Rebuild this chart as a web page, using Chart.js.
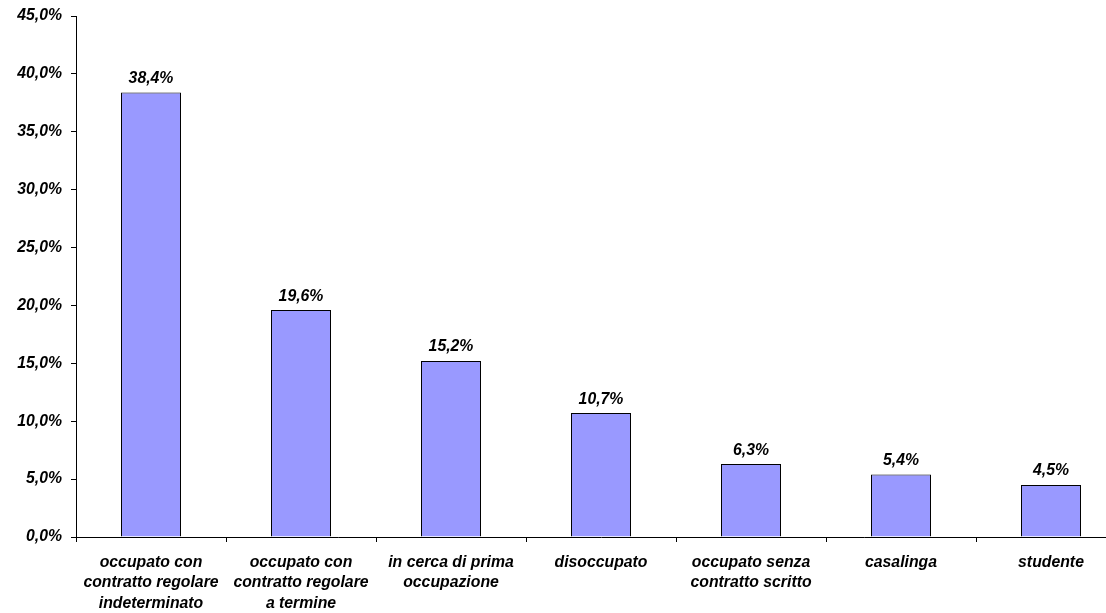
<!DOCTYPE html>
<html>
<head>
<meta charset="utf-8">
<script src="https://cdn.jsdelivr.net/npm/chart.js@4"></script>
<style>
  html, body { margin: 0; padding: 0; background: #fff; overflow: hidden; }
  #wrap { width: 1126px; height: 613px; }
</style>
</head>
<body>
<div id="wrap"><canvas id="chart"></canvas></div>
<script>
// categories (multi-line labels), values in %
const categories = [
  ["occupato con", "contratto regolare", "indeterminato"],
  ["occupato con", "contratto regolare", "a termine"],
  ["in cerca di prima", "occupazione"],
  ["disoccupato"],
  ["occupato senza", "contratto scritto"],
  ["casalinga"],
  ["studente"],
];
const values = [38.4, 19.6, 15.2, 10.7, 6.3, 5.4, 4.5];
const yTicks = [0, 5, 10, 15, 20, 25, 30, 35, 40, 45];

const FONT = { family: "Arial, 'Liberation Sans', sans-serif", size: 15.8, weight: "bold", style: "italic", lineHeight: 1.27 };
const fmt = (v) => v.toFixed(1).replace(".", ",") + "%";

// value labels above each bar
const barLabels = {
  id: "barLabels",
  afterDatasetsDraw(chart) {
    const ctx = chart.ctx;
    const meta = chart.getDatasetMeta(0);
    ctx.save();
    ctx.font = `${FONT.style} ${FONT.weight} ${FONT.size}px ${FONT.family}`;
    ctx.fillStyle = "#000";
    ctx.textAlign = "center";
    ctx.textBaseline = "bottom";
    meta.data.forEach((bar, i) => {
      ctx.fillText(fmt(values[i]), bar.x, bar.y - 6);
    });
    ctx.restore();
  },
};

new Chart(document.getElementById("chart"), {
  type: "bar",
  data: {
    labels: categories,
    datasets: [{
      data: values,
      backgroundColor: "#9999FF",
      borderColor: "#000",
      borderWidth: 1,
      barPercentage: 0.4,
      categoryPercentage: 1,
    }],
  },
  options: {
    responsive: true,
    maintainAspectRatio: false,
    animation: false,
    layout: { padding: { top: 16, left: 0, right: 0, bottom: 0 } },
    plugins: { legend: { display: false }, tooltip: { enabled: false } },
    scales: {
      x: {
        offset: true,
        grid: { display: true, drawOnChartArea: false, drawTicks: true, tickLength: 5, color: "#000", offset: true },
        border: { display: true, color: "#000", width: 1 },
        ticks: { color: "#000", font: FONT, maxRotation: 0, autoSkip: false, padding: 11 },
        afterFit: (s) => { s.height = 76; s.paddingLeft = 0; s.paddingRight = 0; },
      },
      y: {
        min: 0,
        max: 45,
        afterBuildTicks: (s) => { s.ticks = yTicks.map((v) => ({ value: v })); },
        grid: { display: true, drawOnChartArea: false, drawTicks: true, tickLength: 5, color: "#000" },
        border: { display: true, color: "#000", width: 1 },
        ticks: { color: "#000", font: FONT, padding: 9, callback: (v) => fmt(v) },
        afterFit: (s) => { s.width = 76; s.paddingTop = 0; s.paddingBottom = 0; },
      },
    },
  },
  plugins: [barLabels],
});
</script>
</body>
</html>
